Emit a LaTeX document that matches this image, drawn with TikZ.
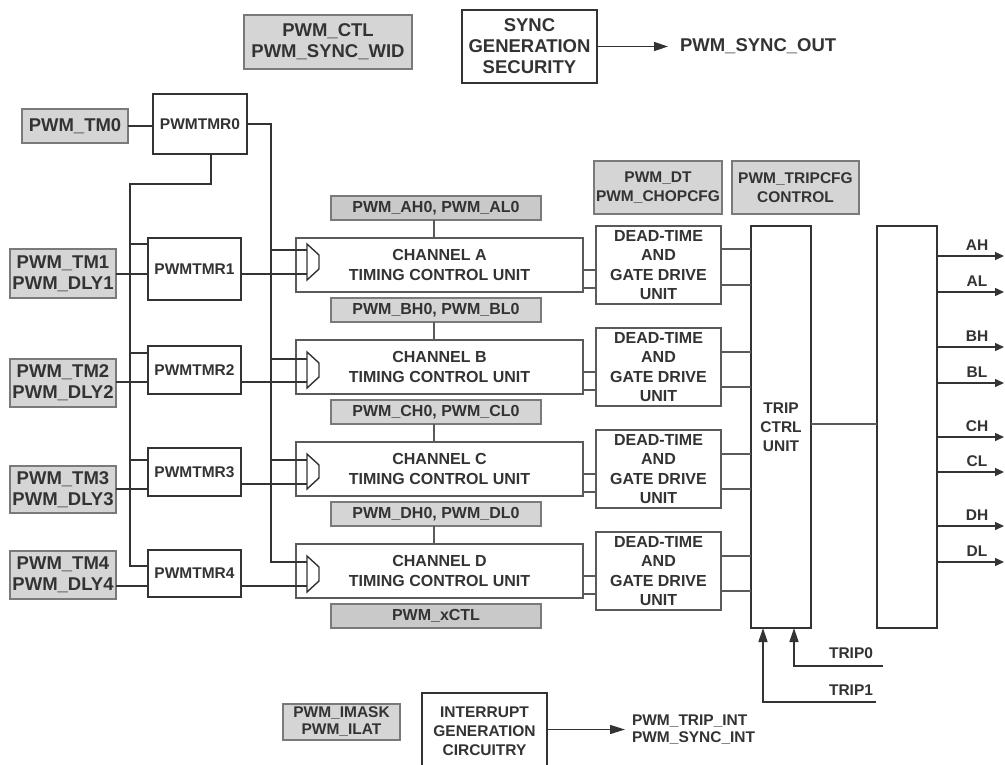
\documentclass[tikz,border=0pt]{standalone}
\usepackage{fontspec}
\setmainfont{Liberation Sans}
\usetikzlibrary{arrows.meta}
\definecolor{txt}{HTML}{333333}
\definecolor{gfill}{HTML}{D5D5D5}
\definecolor{gfilld}{HTML}{C9C9C9}
\definecolor{gline}{HTML}{7A7A7A}
\definecolor{bline}{HTML}{333333}
\definecolor{tline}{HTML}{5A5A5A}
\begin{document}
\begin{tikzpicture}[x=1pt,y=-1pt,
 every node/.style={text=txt, inner sep=0pt, outer sep=0pt, align=center},
 big/.style={font=\fontsize{18.5}{21}\selectfont\bfseries},
 mid/.style={font=\fontsize{16}{20}\selectfont\bfseries},
 sml/.style={font=\fontsize{15.5}{19}\selectfont\bfseries},
 smt/.style={font=\fontsize{15.5}{17}\selectfont\bfseries},
 sz/.style 2 args={minimum width=#1pt, minimum height=#2pt},
 greybox/.style={draw=gline, fill=gfill, line width=1.4pt},
 greyboxc/.style={draw=gline, fill=gfill, line width=1.1pt},
 blackbox/.style={draw=bline, fill=white, line width=1.7pt},
 thinbox/.style={draw=tline, fill=white, line width=1.1pt},
 wire/.style={draw=bline, line width=1.4pt},
 thinwire/.style={draw=tline, line width=1.1pt},
 arr/.style={wire, -{Triangle[length=14pt,width=9pt]}},
 oarr/.style={wire, -{Triangle[length=9pt,width=8pt]}},
]
\useasboundingbox (0,0) rectangle (1005,764);

% ---------- top ----------
\node[greybox,big,sz={168}{54}] (ctl) at (328,42) {PWM\_CTL\\PWM\_SYNC\_WID};
\node[blackbox,big,sz={135}{73},line width=2.2pt] (sync) at (529.5,46.5) {SYNC\\GENERATION\\SECURITY};
\node[big,anchor=west] (syncout) at (680,46) {PWM\_SYNC\_OUT};
\draw[arr,shorten >=12pt] (sync.east) -- (sync.east -| syncout.west);

% ---------- left inputs ----------
\node[greybox,big,sz={106}{34}] (tm0) at (75,126) {PWM\_TM0};
\node[greybox,big,sz={106}{49}] (tm1) at (63,273.5) {PWM\_TM1\\PWM\_DLY1};
\node[greybox,big,sz={106}{48}] (tm2) at (63,383) {PWM\_TM2\\PWM\_DLY2};
\node[greybox,big,sz={106}{47}] (tm3) at (63,489.5) {PWM\_TM3\\PWM\_DLY3};
\node[greybox,big,sz={106}{48}] (tm4) at (63,575) {PWM\_TM4\\PWM\_DLY4};

\node[blackbox,sml,sz={94}{60}] (tmr0) at (200,124) {PWMTMR0};
\node[blackbox,sml,sz={93}{62}] (tmr1) at (194.5,269) {PWMTMR1};
\node[blackbox,sml,sz={93}{48}] (tmr2) at (194.5,370) {PWMTMR2};
\node[blackbox,sml,sz={93}{48}] (tmr3) at (194.5,472) {PWMTMR3};
\node[blackbox,sml,sz={93}{47}] (tmr4) at (194.5,573.5) {PWMTMR4};

% ---------- channel register boxes ----------
\node[greyboxc,mid,sz={210}{24},fill=gfilld] (ah0) at (436,208) {PWM\_AH0, PWM\_AL0};
\node[greyboxc,mid,sz={210}{24}] (bh0) at (436,310) {PWM\_BH0, PWM\_BL0};
\node[greyboxc,mid,sz={210}{24}] (ch0) at (436,412) {PWM\_CH0, PWM\_CL0};
\node[greyboxc,mid,sz={210}{24}] (dh0) at (436,514) {PWM\_DH0, PWM\_DL0};
\node[greyboxc,mid,sz={210}{24},fill=gfilld] (xctl) at (436,616) {PWM\_xCTL};

% ---------- channels ----------
\node[thinbox,mid,sz={287}{54}] (chA) at (439.5,265) {CHANNEL A\\TIMING CONTROL UNIT};
\node[thinbox,mid,sz={287}{54}] (chB) at (439.5,367) {CHANNEL B\\TIMING CONTROL UNIT};
\node[thinbox,mid,sz={287}{54}] (chC) at (439.5,469) {CHANNEL C\\TIMING CONTROL UNIT};
\node[thinbox,mid,sz={287}{54}] (chD) at (439.5,571) {CHANNEL D\\TIMING CONTROL UNIT};

% ---------- dead time ----------
\node[greybox,sml,sz={128}{53}] (dtreg) at (658,187.5) {PWM\_DT\\PWM\_CHOPCFG};
\node[greybox,sml,sz={127}{53}] (tripcfg) at (795.5,187.5) {PWM\_TRIPCFG\\CONTROL};
\node[thinbox,mid,sz={125}{78},font=\fontsize{16}{19.5}\selectfont\bfseries] (dtA) at (658.5,265) {DEAD-TIME\\AND\\GATE DRIVE\\UNIT};
\node[thinbox,mid,sz={125}{78},font=\fontsize{16}{19.5}\selectfont\bfseries] (dtB) at (658.5,367) {DEAD-TIME\\AND\\GATE DRIVE\\UNIT};
\node[thinbox,mid,sz={125}{78},font=\fontsize{16}{19.5}\selectfont\bfseries] (dtC) at (658.5,469) {DEAD-TIME\\AND\\GATE DRIVE\\UNIT};
\node[thinbox,mid,sz={125}{78},font=\fontsize{16}{19.5}\selectfont\bfseries] (dtD) at (658.5,571) {DEAD-TIME\\AND\\GATE DRIVE\\UNIT};

% ---------- trip and output ----------
\node[blackbox,sml,sz={60}{402}] (trip) at (781,427) {TRIP\\CTRL\\UNIT};
\node[blackbox,sz={60}{402}] (out) at (907,427) {};

% ---------- bottom ----------
\node[greybox,smt,sz={117}{36}] (imask) at (341.5,722) {PWM\_IMASK\\PWM\_ILAT};
\node[blackbox,sml,sz={125}{76}] (intr) at (484.5,731) {INTERRUPT\\GENERATION\\CIRCUITRY};
\node[smt,anchor=west,align=left] (intout) at (632,729.5) {PWM\_TRIP\_INT\\PWM\_SYNC\_INT};
\draw[arr,-{Triangle[length=15pt,width=9pt]},shorten >=7pt] (intr.east |- intout.west) -- (intout.west);

% ---------- coordinates ----------
\coordinate (muxA1) at (307,250); \coordinate (muxA2) at (307,274);
\coordinate (muxB1) at (307,359); \coordinate (muxB2) at (307,382);
\coordinate (muxC1) at (307,460); \coordinate (muxC2) at (307,484);
\coordinate (muxD1) at (307,562); \coordinate (muxD2) at (307,586);
\coordinate (yT3) at (0,489);
\coordinate (yB1) at (0,244); \coordinate (yB2) at (0,353); \coordinate (yB3) at (0,460);
\coordinate (lbTop) at (211,184); \coordinate (lbX) at (130,184); \coordinate (lbBot) at (130,566);
\coordinate (rbTop) at (271,124); \coordinate (rbBot) at (271,562);

% ---------- left wiring ----------
\draw[wire] (tm0.east) -- (tm0.east -| tmr0.west);
\draw[wire] (tmr0.south -| lbTop) -- (lbTop) -- (lbX) -- (lbBot) -- (tmr4.west |- lbBot);
\draw[wire] (lbX |- yB1) -- (tmr1.west |- yB1);
\draw[wire] (lbX |- yB2) -- (tmr2.west |- yB2);
\draw[wire] (lbX |- yB3) -- (tmr3.west |- yB3);
\draw[wire] (tmr0.east |- rbTop) -- (rbTop) -- (rbBot) -- (muxD1);
\draw[wire] (rbTop |- muxA1) -- (muxA1);
\draw[wire] (rbTop |- muxB1) -- (muxB1);
\draw[wire] (rbTop |- muxC1) -- (muxC1);
\draw[wire] (tm1.east |- muxA2) -- (tmr1.west |- muxA2);
\draw[wire] (tm2.east |- muxB2) -- (tmr2.west |- muxB2);
\draw[wire] (tm3.east |- yT3) -- (tmr3.west |- yT3);
\draw[wire] (tm4.east |- muxD2) -- (tmr4.west |- muxD2);
\draw[wire] (tmr1.east |- muxA2) -- (muxA2);
\draw[wire] (tmr2.east |- muxB2) -- (muxB2);
\draw[wire] (tmr3.east |- muxC2) -- (muxC2);
\draw[wire] (tmr4.east |- muxD2) -- (muxD2);

% ---------- muxes ----------
\foreach \t/\b in {244/280, 352/388, 454/489, 556/592} {
  \draw[wire,fill=white,line join=miter] (307,\t) -- (319,\t+11) -- (319,\b-11) -- (307,\b) -- cycle;
}

% ---------- register to channel ----------
\coordinate (cx) at (434,0);
\draw[thinwire] (ah0.south -| cx) -- (chA.north -| cx);
\draw[thinwire] (bh0.south -| cx) -- (chB.north -| cx);
\draw[thinwire] (ch0.south -| cx) -- (chC.north -| cx);
\draw[thinwire] (dh0.south -| cx) -- (chD.north -| cx);

% ---------- channel to dead time ----------
\foreach \r in {A,B,C,D} {
  \draw[thinwire] ([yshift=-5pt]ch\r.east) -- ([yshift=-5pt]ch\r.east -| dt\r.west);
  \draw[thinwire] ([yshift=-23pt]ch\r.east) -- ([yshift=-23pt]ch\r.east -| dt\r.west);
}
% ---------- dead time to trip ----------
\foreach \r/\ya/\yb in {A/249/285, B/352/387, C/454/489, D/556/591} {
  \coordinate (q\r1) at (0,\ya); \coordinate (q\r2) at (0,\yb);
  \draw[thinwire] (dt\r.east |- q\r1) -- (trip.west |- q\r1);
  \draw[thinwire] (dt\r.east |- q\r2) -- (trip.west |- q\r2);
}
\coordinate (yto) at (0,424);
\draw[thinwire] (trip.east |- yto) -- (out.west |- yto);

% ---------- outputs ----------
\foreach \n/\y in {AH/256,AL/292,BH/347,BL/383,CH/437,CL/472,DH/526,DL/562} {
  \coordinate (e\n) at (1004,\y);
  \draw[oarr] (out.east |- e\n) -- (e\n);
  \node[sml] (l\n) at (977,\y-11) {\n};
}

% ---------- trip inputs ----------
\coordinate (t0end) at (883,666); \coordinate (t0x) at (794,0);
\coordinate (t1end) at (876,702); \coordinate (t1x) at (763,0);
\draw[arr] (t0end) -- (t0end -| t0x) -- (trip.south -| t0x);
\draw[arr] (t1end) -- (t1end -| t1x) -- (trip.south -| t1x);
\node[sml] (trip0) at (851,653) {TRIP0};
\node[sml] (trip1) at (851,690) {TRIP1};
\end{tikzpicture}
\end{document}
